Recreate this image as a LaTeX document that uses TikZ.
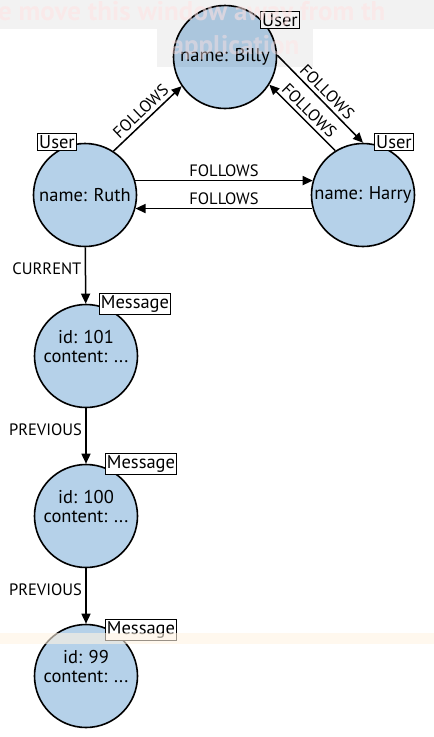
\documentclass[tikz,border=0pt]{standalone}
\usepackage{fontspec}
\setmainfont{PT Sans}
\usepackage{tikz}
\usetikzlibrary{positioning, arrows.meta}

\definecolor{nodeblue}{HTML}{B5D1E9}
\definecolor{warnpink}{HTML}{FFE2E2}
\definecolor{warncream}{HTML}{FFF3E2}

\begin{document}
\begin{tikzpicture}[
        x=1pt, y=-1pt,
        entity/.style={circle, draw, line width=1.6pt, fill=nodeblue, minimum size=103pt, inner sep=0pt, align=center, font=\fontsize{18.5}{19.5}\selectfont},
        tag/.style={draw, line width=1.2pt, fill=white, inner sep=1.8pt, font=\fontsize{18.5}{19}\selectfont},
        rel/.style={line width=1.5pt, -{Triangle[length=10pt, width=9pt]}},
        rellabel/.style={font=\fontsize{16.5}{17}\selectfont}
        ]
        \useasboundingbox (0,0) rectangle (434,737);
        % Nodes
        \node[entity] (billy) at (225,57) {name: Billy};
        \node[entity] (ruth) at (85,195) {name: Ruth};
        \node[entity] (harry) at (363,195) {name: Harry};
        \node[entity] (msg101) at (86,356) {id: 101\\content: ...\\\mbox{}};
        \node[entity] (msg100) at (86,516) {id: 100\\content: ...\\\mbox{}};
        \node[entity] (msg99) at (86,676) {id: 99\\content: ...\\\mbox{}};

        % Labels
        \node[tag] (billytag) at ([shift={(55,-37)}]billy.center) {User};
        \node[tag] (ruthtag) at ([shift={(-28,-53)}]ruth.center) {User};
        \node[tag] (harrytag) at ([shift={(31,-53)}]harry.center) {User};
        \node[tag] (msg101tag) at ([shift={(49,-52)}]msg101.center) {Message};
        \node[tag] (msg100tag) at ([shift={(55,-52)}]msg100.center) {Message};
        \node[tag] (msg99tag) at ([shift={(55,-46)}]msg99.center) {Message};

        % Arrows
        \draw[rel] (ruth.57) -- node[sloped, above, rellabel] {FOLLOWS} (billy.214);
        \draw[rel] (billy.2) -- node[sloped, above, rellabel] {FOLLOWS} (harry.north);
        \draw[rel] (harry.122) -- node[sloped, above, rellabel] {FOLLOWS} (billy.-32);
        \draw[rel] (ruth.16) -- node[above, rellabel] {FOLLOWS} (harry.164);
        \draw[rel] (harry.195) -- node[above, rellabel] {FOLLOWS} (ruth.-15);
        \draw[rel] (ruth) -- node[pos=0.38, left, rellabel] {CURRENT} (msg101);
        \draw[rel] (msg101) -- node[pos=0.38, left, rellabel] {PREVIOUS} (msg100);
        \draw[rel] (msg100) -- node[pos=0.38, left, rellabel] {PREVIOUS} (msg99);

        % Window overlay
        \fill[black, fill opacity=0.05] (0,0) rectangle (434,29);
        \fill[black, fill opacity=0.05] (157,29) rectangle (313,67);
        \fill[warncream, fill opacity=0.6] (0,633) rectangle (434,644);
        \node[anchor=west, inner sep=0pt, text=warnpink, text opacity=0.55, font=\bfseries\fontsize{27}{28}\selectfont] (warn1) at (-2,14) {e move this window away from th};
        \node[inner sep=0pt, text=warnpink, text opacity=0.45, font=\bfseries\fontsize{27}{28}\selectfont] (warn2) at (235,48) {application};
    \end{tikzpicture}
\end{document}
